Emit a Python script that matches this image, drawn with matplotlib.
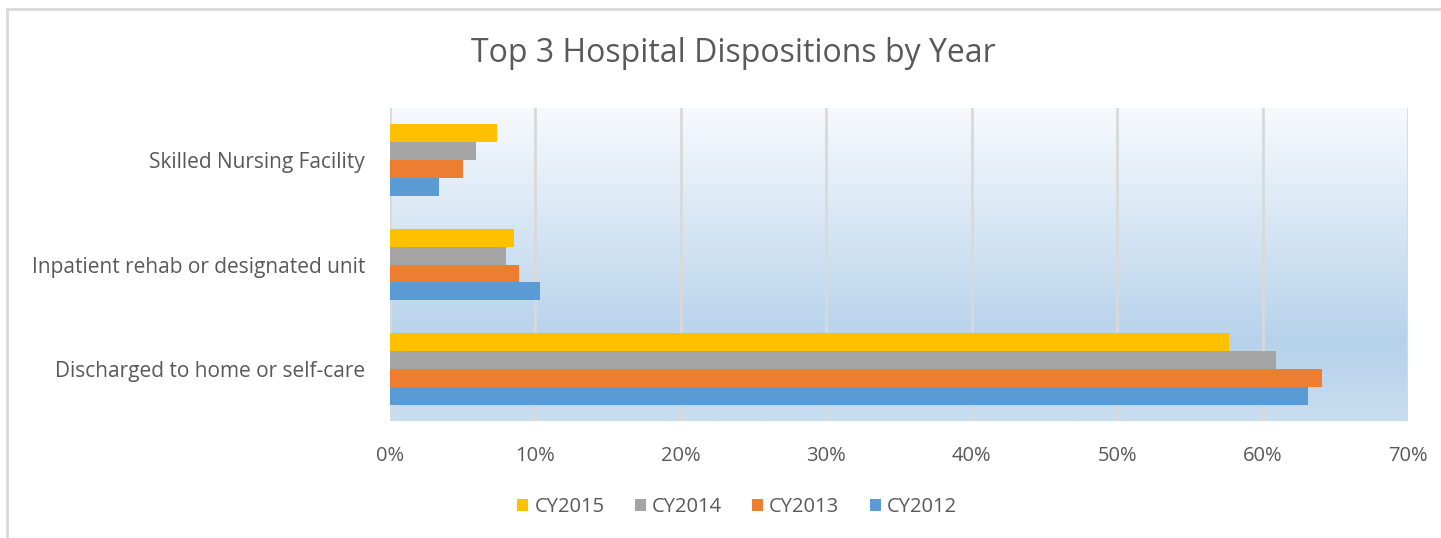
import numpy as np
import matplotlib
matplotlib.use("Agg")
import matplotlib.pyplot as plt
from matplotlib.colors import LinearSegmentedColormap
from matplotlib.lines import Line2D
from matplotlib.patches import Patch

categories = ["Discharged to home or self-care", "Inpatient rehab or designated unit", "Skilled Nursing Facility"]
series_names = ["CY2012", "CY2013", "CY2014", "CY2015"]
cy2012 = [63.1, 10.3, 3.4]
cy2013 = [64.1, 8.9, 5.0]
cy2014 = [60.9, 8.0, 5.9]
cy2015 = [57.7, 8.5, 7.35]
colors = ["#5b9bd5", "#ed7d31", "#a5a5a5", "#ffc000"]
xticks = [0, 10, 20, 30, 40, 50, 60, 70]

W, H = 1441, 538
fig = plt.figure(figsize=(W / 100, H / 100), dpi=100)
font = "Open Sans"
plt.rcParams['font.family'] = [font, 'DejaVu Sans']

# plot area in pixels
left, right, top, bottom = 390, 1408, 108, 421
ax = fig.add_axes([left / W, 1 - bottom / H, (right - left) / W, (bottom - top) / H])

# gradient background
cmap = LinearSegmentedColormap.from_list("bg", [(0, "#f7fafd"), (0.75, "#b6d2eb"), (1.0, "#c9ddf0")])
grad = np.linspace(0, 1, 256).reshape(-1, 1)
ax.imshow(grad, aspect="auto", cmap=cmap, extent=[0, 70, -0.5, 2.5], origin="upper", zorder=0)

bh = 0.172
data = [cy2012, cy2013, cy2014, cy2015]
y = np.arange(len(categories))
for i, (vals, c) in enumerate(zip(data, colors)):
    off = (i - 1.5) * bh
    ax.barh(y + off, vals, height=bh, color=c, zorder=3, edgecolor="none")

ax.set_xlim(0, 70)
ax.set_ylim(-0.5, 2.5)
ax.set_xticks(xticks)
ax.set_xticklabels([f"{t}%" for t in xticks], color="#595959", fontsize=14.5)
ax.set_yticks(y)
ax.set_yticklabels(categories, color="#595959", fontsize=15)
ax.tick_params(length=0, axis="x", pad=18)
ax.tick_params(length=0, axis="y", pad=18)
for t in xticks:
    ax.axvline(t, color="#d9d9d9", lw=2, zorder=1)
for s in ax.spines.values():
    s.set_visible(False)

fig.text(733 / W, 1 - 53 / H, "Top 3 Hospital Dispositions by Year", ha="center", va="center",
         fontsize=23, color="#595959")

handles = [Patch(facecolor=colors[i], edgecolor="none") for i in [3, 2, 1, 0]]
labels = [series_names[i] for i in [3, 2, 1, 0]]
fig.legend(handles, labels, loc="center", bbox_to_anchor=(737 / W, 1 - 507 / H), ncol=4,
           frameon=False, fontsize=14.5, labelcolor="#595959", handlelength=0.55, handleheight=0.55,
           handletextpad=0.3, columnspacing=1.5)

# outer chart border (top and left)
fig.add_artist(Line2D([7 / W, 1], [1 - 9 / H, 1 - 9 / H], color="#d9d9d9", lw=2))
fig.add_artist(Line2D([7 / W, 7 / W], [0, 1 - 9 / H], color="#d9d9d9", lw=2))

fig.savefig("out.png", dpi=100)
